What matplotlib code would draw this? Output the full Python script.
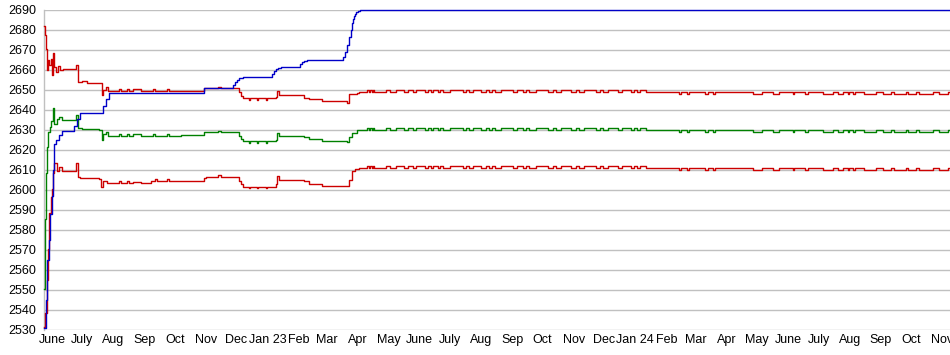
import matplotlib
matplotlib.use("Agg")
import matplotlib.pyplot as plt
import pandas as pd
import numpy as np

START = pd.Timestamp("2022-06-01")

# ---- Blue line (peak) : day offsets from START and values ----
blue_days = [-8, -6, -5, -3, -2, 0, 1, 2, 4, 7, 10, 20, 22, 25, 28, 48, 51, 54, 57,
             150, 151, 178, 180, 182, 184, 186, 190, 216, 218, 220, 222, 224, 227,
             244, 246, 248, 250, 253, 287, 289, 291, 293, 295, 297, 298, 299, 300,
             301, 302, 304, 306, 905]
blue_vals = [2531, 2545, 2565, 2575, 2588, 2597, 2610, 2623, 2625, 2627.5, 2629.5, 2629.5,
             2632, 2635.5, 2638.5, 2638.5, 2642, 2645.5, 2648.5,
             2648.5, 2651, 2651, 2652.5, 2654, 2655, 2656, 2656.3, 2656.3, 2658, 2659.5,
             2660.5, 2661, 2661.3, 2661.3, 2663, 2664, 2664.5, 2665, 2665, 2666.5, 2669,
             2672.5, 2676.5, 2680, 2683.5, 2685.5, 2687, 2688, 2689, 2689.7, 2690, 2690]

# ---- Shared knot days of the late, flat period ----
late_days = [305, 313, 315, 316, 318, 319, 320, 332, 336, 341,
             349, 353, 358, 361, 370, 373, 376, 378, 383, 385,
             388, 395, 408, 411, 414, 418, 426, 431, 434, 437,
             440, 446, 458, 462, 468, 471, 474, 480, 492, 497,
             500, 505, 515, 520, 523, 528, 540, 544, 547, 552,
             562, 566, 575, 578, 581, 584, 590,
             622, 624, 630, 632, 648, 651, 656, 658, 696, 705,
             716, 722, 736, 737, 748, 751, 765, 775, 780, 785,
             790, 791, 795, 797, 806, 818, 825, 833, 836, 848,
             850, 858, 861, 875, 881, 890, 893, 895, 905]

# ---- Upper red line ----
ur_early_days = [-8, -7, -6, -5, -4, -3, -1, 0, 1, 2, 4, 6, 8, 11, 23, 24, 26, 30, 35,
                 48, 50, 51, 54, 56, 66, 68, 74, 76, 80, 88, 100, 102, 114, 116, 128, 149,
                 151, 165, 168, 185, 186, 188,
                 190, 196, 197, 203, 204, 212, 213, 222, 223, 225, 250, 255, 268, 293,
                 295, 303]
ur_early_vals = [2682, 2677.5, 2670.5, 2660, 2665, 2662.5, 2665.5, 2657.5, 2668.5, 2661.5,
                 2659, 2662, 2660, 2660.5, 2660.5, 2662.5, 2654, 2654.5, 2653.5,
                 2653.5, 2647.5, 2650, 2651.5, 2649.5, 2650.3, 2649.5, 2650.3, 2649.5,
                 2650.5, 2649.5, 2650.3, 2649.5, 2650.3, 2649.5, 2649.2, 2649.2,
                 2650.8, 2651.5, 2650.8, 2650.8, 2649, 2647, 2645.8, 2645, 2645.8,
                 2645, 2645.8, 2645, 2645.8, 2646.5, 2649.2, 2647.2, 2646, 2645.5,
                 2644.5, 2643.5, 2648, 2648.5]
ur_late_vals = [2649, 2650.1, 2649, 2650.1, 2649, 2650.1, 2649, 2650.1, 2649, 2650.1,
                2649, 2650.1, 2649, 2650.1, 2649, 2650.1, 2649, 2650.1, 2649, 2650.1,
                2649, 2650.1, 2649, 2650.1, 2649, 2650.1, 2649, 2650.1, 2649, 2650.1,
                2649, 2650.1, 2649, 2650.1, 2649, 2650.1, 2649, 2650.1, 2649, 2650.1,
                2649, 2650.1, 2649, 2650.1, 2649, 2650.1, 2649, 2650.1, 2649, 2650.1,
                2649, 2650.1, 2649, 2650.1, 2649, 2650.1, 2649,
                2648, 2649, 2648, 2649, 2648, 2649, 2648, 2649, 2648, 2649,
                2648, 2649, 2648, 2649, 2648, 2649, 2648, 2649, 2648, 2649,
                2648, 2649, 2648, 2649, 2648, 2649, 2648, 2649, 2648, 2649,
                2648, 2649, 2648, 2649, 2648, 2649, 2648, 2649, 2649]

# ---- Green line ----
g_early_days = [-8, -7, -6, -5, -4, -2, -1, 1, 2, 5, 7, 10, 24, 26, 30, 47, 50, 51, 54,
                56, 66, 68, 74, 76, 80, 88, 100, 102, 114, 116, 128, 149, 151, 165, 168,
                185, 186, 188, 190, 196, 197, 203,
                204, 212, 213, 222, 223, 225, 250, 255, 268, 293, 295, 298, 303]
g_early_vals = [2550.5, 2585.5, 2608.5, 2621.5, 2629, 2631.5, 2634.5, 2641, 2633, 2635.5,
                2636.5, 2635, 2637.5, 2631, 2630.5, 2630, 2625, 2628, 2629,
                2627, 2627.8, 2627, 2627.8, 2627, 2628, 2627, 2627.8, 2627, 2627.8, 2627,
                2627.2, 2627.2, 2628.7, 2629.5, 2628.7, 2628.7, 2627,
                2625.5, 2624.2, 2623.5, 2624.2, 2623.5, 2624.2, 2623.5, 2624.2, 2625,
                2628.3, 2626.8, 2626.2, 2625.2, 2624.2, 2623.8, 2626.5, 2628.5, 2630]
g_late_vals = [2630.1, 2631.1, 2630.1, 2631.1, 2630.1, 2631.1, 2630.1, 2631.1, 2630.1, 2631.1,
               2630.1, 2631.1, 2630.1, 2631.1, 2630.1, 2631.1, 2630.1, 2631.1, 2630.1, 2631.1,
               2630.1, 2631.1, 2630.1, 2631.1, 2630.1, 2631.1, 2630.1, 2631.1, 2630.1, 2631.1,
               2630.1, 2631.1, 2630.1, 2631.1, 2630.1, 2631.1, 2630.1, 2631.1, 2630.1, 2631.1,
               2630.1, 2631.1, 2630.1, 2631.1, 2630.1, 2631.1, 2630.1, 2631.1, 2630.1, 2631.1,
               2630.1, 2631.1, 2630.1, 2631.1, 2630.1, 2631.1, 2630.1,
               2629.1, 2630.1, 2629.1, 2630.1, 2629.1, 2630.1, 2629.1, 2630.1, 2629.1, 2630.1,
               2629.1, 2630.1, 2629.1, 2630.1, 2629.1, 2630.1, 2629.1, 2630.1, 2629.1, 2630.1,
               2629.1, 2630.1, 2629.1, 2630.1, 2629.1, 2630.1, 2629.1, 2630.1, 2629.1, 2630.1,
               2629.1, 2630.1, 2629.1, 2630.1, 2629.1, 2630.1, 2629.1, 2630.1, 2630.1]

# ---- Lower red line ----
lr_early_days = [-8, -7, -5, -4, -3, -1, 0, 1, 2, 5, 7, 10, 24, 26, 28, 47, 49, 51, 55,
                 66, 68, 74, 76, 80, 88, 98, 102, 104, 114, 116, 128, 149, 151, 153, 165,
                 168, 185, 186, 188, 190, 196, 197,
                 203, 204, 212, 213, 222, 223, 225, 250, 255, 268, 293, 295, 298, 301]
lr_early_vals = [2531.5, 2538.5, 2555, 2570.5, 2588.5, 2596.5, 2600.5, 2608.5, 2613.5,
                 2609.5, 2611.5, 2609.5, 2613.5, 2606.5, 2606, 2605.5, 2601.5, 2604.5,
                 2603.5, 2604.3, 2603.5, 2604.3, 2603.5, 2604, 2603.5, 2604.5, 2605.3,
                 2604.5, 2605.3, 2604.5, 2604.5, 2604.5, 2605.8, 2606.5, 2607.2,
                 2606.5, 2606.5, 2604.5, 2603, 2601.5, 2600.8, 2601.5, 2600.8, 2601.5,
                 2600.8, 2601.5, 2603, 2607, 2605, 2604.2, 2603, 2602, 2601.8, 2605,
                 2609.2, 2610.5]
lr_late_vals = [2611.1, 2612.1, 2611.1, 2612.1, 2611.1, 2612.1, 2611.1, 2612.1, 2611.1, 2612.1,
                2611.1, 2612.1, 2611.1, 2612.1, 2611.1, 2612.1, 2611.1, 2612.1, 2611.1, 2612.1,
                2611.1, 2612.1, 2611.1, 2612.1, 2611.1, 2612.1, 2611.1, 2612.1, 2611.1, 2612.1,
                2611.1, 2612.1, 2611.1, 2612.1, 2611.1, 2612.1, 2611.1, 2612.1, 2611.1, 2612.1,
                2611.1, 2612.1, 2611.1, 2612.1, 2611.1, 2612.1, 2611.1, 2612.1, 2611.1, 2612.1,
                2611.1, 2612.1, 2611.1, 2612.1, 2611.1, 2612.1, 2611.1,
                2610.1, 2611.1, 2610.1, 2611.1, 2610.1, 2611.1, 2610.1, 2611.1, 2610.1, 2611.1,
                2610.1, 2611.1, 2610.1, 2611.1, 2610.1, 2611.1, 2610.1, 2611.1, 2610.1, 2611.1,
                2610.1, 2611.1, 2610.1, 2611.1, 2610.1, 2611.1, 2610.1, 2611.1, 2610.1, 2611.1,
                2610.1, 2611.1, 2610.1, 2611.1, 2610.1, 2611.1, 2610.1, 2611.1, 2611.1]

month_labels = ["June", "July", "Aug", "Sep", "Oct", "Nov", "Dec", "Jan 23", "Feb", "Mar",
                "Apr", "May", "June", "July", "Aug", "Sep", "Oct", "Nov", "Dec", "Jan 24",
                "Feb", "Mar", "Apr", "May", "June", "July", "Aug", "Sep", "Oct", "Nov"]
y_ticks = list(range(2530, 2691, 10))

plt.rcParams['font.family'] = ['Liberation Sans', 'DejaVu Sans']

W, H = 950, 355
fig = plt.figure(figsize=(W / 100, H / 100), dpi=100)
left_px, right_px, top_px, bot_px = 43.5, 950, 10, 329.5
ax = fig.add_axes([left_px / W, (H - bot_px) / H, (right_px - left_px) / W, (bot_px - top_px) / H])


def to_dates(days):
    return START + pd.to_timedelta(days, unit="D")


RED = "#cc0000"
GREEN = "#008000"
BLUE = "#0000c8"
lw = 1.0

ax.plot(to_dates(ur_early_days + late_days), ur_early_vals + ur_late_vals,
        drawstyle="steps-post", color=RED, lw=lw, clip_on=False, zorder=3)
ax.plot(to_dates(g_early_days + late_days), g_early_vals + g_late_vals,
        drawstyle="steps-post", color=GREEN, lw=lw, clip_on=False, zorder=3)
ax.plot(to_dates(lr_early_days + late_days), lr_early_vals + lr_late_vals,
        drawstyle="steps-post", color=RED, lw=lw, clip_on=False, zorder=3)
ax.plot(to_dates(blue_days), blue_vals, drawstyle="steps-post", color=BLUE, lw=lw,
        clip_on=False, zorder=4)

ax.set_ylim(2530, 2690)
ax.set_xlim(START + pd.Timedelta(days=-8.5), START + pd.Timedelta(days=891.5))
ax.set_yticks(y_ticks)
ax.set_yticklabels([str(v) for v in y_ticks])
month_pos = pd.date_range("2022-06-01", periods=len(month_labels), freq="MS")
ax.set_xticks(month_pos)
ax.set_xticklabels(month_labels)

ax.grid(axis="y", color="#c0c0c0", lw=1.0, zorder=0)
ax.set_axisbelow(True)
for s in ["top", "right", "bottom"]:
    ax.spines[s].set_visible(False)
ax.spines["left"].set_color("#c0c0c0")
ax.spines["left"].set_linewidth(1.0)
ax.tick_params(axis="both", length=0, labelsize=9, colors="#000000")
ax.tick_params(axis="y", pad=5)
ax.tick_params(axis="x", pad=3)

fig.savefig("out.png", dpi=100)
